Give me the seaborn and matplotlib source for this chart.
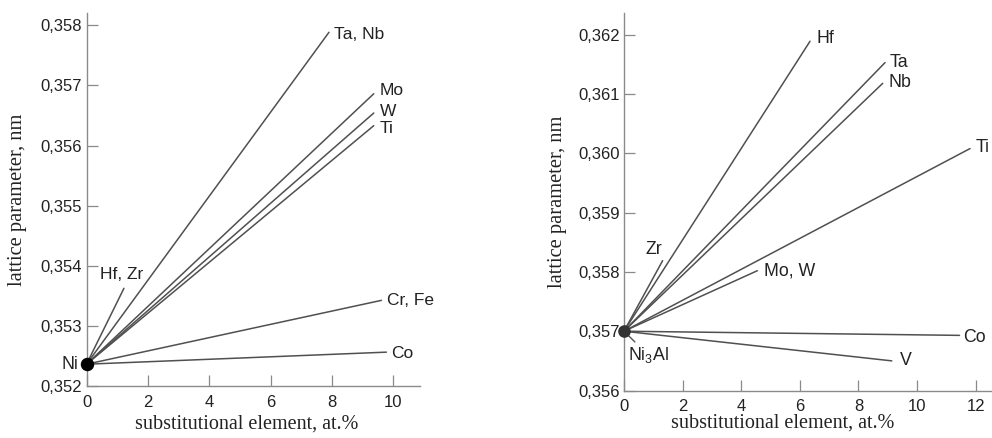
import matplotlib
matplotlib.use("Agg")
import matplotlib.pyplot as plt
import numpy as np
import pandas as pd
import seaborn as sns

# Ni solid solution: lattice parameter vs. content of substitutional element
ni_origin_x = 0.0
ni_origin_y = 0.35237
ni_labels = ["Ta, Nb", "Mo", "W", "Ti", "Hf, Zr", "Cr, Fe", "Co"]
ni_end_x = [7.90, 9.36, 9.36, 9.36, 1.22, 9.61, 9.77]
ni_end_y = [0.35788, 0.35686, 0.35654, 0.35633, 0.35363, 0.35343, 0.35257]
ni_xticks = [0, 2, 4, 6, 8, 10]
ni_yticks = [0.352, 0.353, 0.354, 0.355, 0.356, 0.357, 0.358]
ni_yticklabels = ["0,352", "0,353", "0,354", "0,355", "0,356", "0,357", "0,358"]

# Ni3Al phase
ni3al_origin_x = 0.0
ni3al_origin_y = 0.357
ni3al_labels = ["Hf", "Ta", "Nb", "Ti", "Zr", "Mo, W", "Co", "V"]
ni3al_end_x = [6.35, 8.91, 8.83, 11.81, 1.32, 4.55, 11.45, 9.14]
ni3al_end_y = [0.36189, 0.36153, 0.36118, 0.36008, 0.35819, 0.35802, 0.35693, 0.35650]
ni3al_xticks = [0, 2, 4, 6, 8, 10, 12]
ni3al_yticks = [0.356, 0.357, 0.358, 0.359, 0.360, 0.361, 0.362]
ni3al_yticklabels = ["0,356", "0,357", "0,358", "0,359", "0,360", "0,361", "0,362"]

x_title = "substitutional element, at.%"
y_title = "lattice parameter, nm"

LINE = "#505050"
SPINE = "#8a8a8a"
TEXT = "#222222"

sns.set_theme(style="ticks")
plt.rcParams["font.family"] = ["Liberation Sans", "DejaVu Sans"]
plt.rcParams["mathtext.fontset"] = "custom"
plt.rcParams["mathtext.rm"] = "Liberation Sans"
plt.rcParams["mathtext.it"] = "Liberation Sans"


def ray_frame(ox, oy, labels, ex, ey):
    rows = []
    for lab, x1, y1 in zip(labels, ex, ey):
        rows.append({"element": lab, "x": ox, "y": oy})
        rows.append({"element": lab, "x": x1, "y": y1})
    return pd.DataFrame(rows)


def style_axes(ax, xlim, ylim, xticks, yticks, yticklabels):
    ax.set_xlim(*xlim)
    ax.set_ylim(*ylim)
    ax.set_xticks(xticks)
    ax.set_xticklabels([str(t) for t in xticks])
    ax.set_yticks(yticks)
    ax.set_yticklabels(yticklabels)
    sns.despine(ax=ax)
    for side in ("left", "bottom"):
        ax.spines[side].set_color(SPINE)
        ax.spines[side].set_linewidth(1.0)
    ax.tick_params(axis="both", direction="in", length=8, width=0.9,
                   color=SPINE, labelsize=12, labelcolor=TEXT)
    ax.tick_params(axis="x", pad=6)
    ax.tick_params(axis="y", pad=3)
    ax.set_xlabel(x_title, family="Liberation Serif", fontsize=14.5, color=TEXT)
    ax.set_ylabel(y_title, family="Liberation Serif", fontsize=14.8, color=TEXT)
    ax.set_facecolor("white")


fig = plt.figure(figsize=(9.92, 4.38), dpi=100)
fig.patch.set_facecolor("white")
ax1 = fig.add_axes([0.0872, 0.1176, 0.336, 0.8527])
ax2 = fig.add_axes([0.629, 0.1084, 0.371, 0.8619])

# ---- left panel: Ni ----
df1 = ray_frame(ni_origin_x, ni_origin_y, ni_labels, ni_end_x, ni_end_y)
sns.lineplot(data=df1, x="x", y="y", units="element", estimator=None,
             color=LINE, linewidth=1.1, ax=ax1, legend=False)
ax1.scatter([ni_origin_x], [ni_origin_y], s=75, color="black", zorder=5, clip_on=False)
style_axes(ax1, (0, 10.86), (0.352, 0.35820), ni_xticks, ni_yticks, ni_yticklabels)

ni_offsets = {"Ta, Nb": (5, -2, "left", "center"), "Mo": (6, 3, "left", "center"),
              "W": (6, 2, "left", "center"), "Ti": (6, -3, "left", "center"),
              "Hf, Zr": (-2, 6, "center", "bottom"), "Cr, Fe": (6, 0, "left", "center"),
              "Co": (5, -1, "left", "center")}
for lab, x1, y1 in zip(ni_labels, ni_end_x, ni_end_y):
    dx, dy, ha, va = ni_offsets[lab]
    ax1.annotate(lab, (x1, y1), xytext=(dx, dy), textcoords="offset pixels",
                 ha=ha, va=va, fontsize=12.5, color=TEXT)
ax1.annotate("Ni", (ni_origin_x, ni_origin_y), xytext=(-8, 0), textcoords="offset pixels",
             ha="right", va="center", fontsize=12.8, color=TEXT, annotation_clip=False)

ax1.yaxis.set_label_coords(-0.178, 0.5)
ax1.xaxis.set_label_coords(0.481, -0.074)

# ---- right panel: Ni3Al ----
df2 = ray_frame(ni3al_origin_x, ni3al_origin_y, ni3al_labels, ni3al_end_x, ni3al_end_y)
sns.lineplot(data=df2, x="x", y="y", units="element", estimator=None,
             color=LINE, linewidth=1.1, ax=ax2, legend=False)
ax2.scatter([ni3al_origin_x], [ni3al_origin_y], s=65, color="#333333", zorder=5, clip_on=False)
style_axes(ax2, (0, 12.56), (0.356, 0.362366), ni3al_xticks, ni3al_yticks, ni3al_yticklabels)

ni3al_offsets = {"Hf": (6, 3, "left", "center"), "Ta": (5, 0, "left", "center"),
                 "Nb": (6, 1, "left", "center"), "Ti": (6, 1, "left", "center"),
                 "Zr": (0, 3, "right", "bottom"), "Mo, W": (7, 0, "left", "center"),
                 "Co": (4, -2, "left", "center"), "V": (8, 0, "left", "center")}
for lab, x1, y1 in zip(ni3al_labels, ni3al_end_x, ni3al_end_y):
    dx, dy, ha, va = ni3al_offsets[lab]
    ax2.annotate(lab, (x1, y1), xytext=(dx, dy), textcoords="offset pixels",
                 ha=ha, va=va, fontsize=12.8, color=TEXT, annotation_clip=False)
ax2.annotate(r"$\mathregular{Ni_3Al}$", (ni3al_origin_x, ni3al_origin_y), xytext=(4, -14),
             textcoords="offset pixels", ha="left", va="top", fontsize=12.8, color=TEXT,
             arrowprops=dict(arrowstyle="-", color=LINE, lw=1.0, shrinkA=0, shrinkB=0),
             annotation_clip=False)

ax2.yaxis.set_label_coords(-0.155, 0.5)
ax2.xaxis.set_label_coords(0.432, -0.062)

fig.savefig("out.png", dpi=100, facecolor="white")
